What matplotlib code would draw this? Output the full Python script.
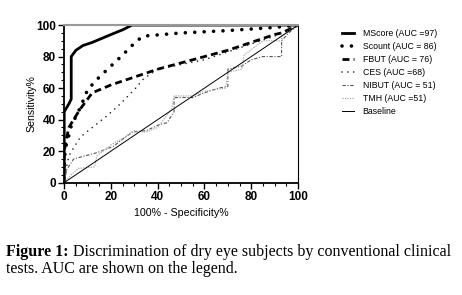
import matplotlib
matplotlib.use("Agg")
import matplotlib.pyplot as plt
from matplotlib.ticker import MultipleLocator

# ---- data ----
mscore_x = [0, 0, 2, 3, 3, 5, 8, 12, 20, 25, 29, 100]
mscore_y = [0, 45, 50, 53, 80, 84, 87, 89, 94, 97, 100, 100]

scount_x = [0, 0, 1, 2, 3, 5, 7, 10, 15, 20, 25, 31, 34, 50, 70, 90, 100]
scount_y = [0, 15, 25, 30, 36, 42, 48, 59, 67, 74, 81, 90, 93, 95, 96.5, 98.5, 100]

fbut_x = [0, 0, 1, 2, 4, 7, 10, 12, 20, 30, 40, 50, 60, 70, 80, 90, 93, 100]
fbut_y = [0, 20, 28, 35, 40, 47, 53, 57, 62, 67, 72, 76, 80, 84, 89, 94, 95, 100]

ces_x = [0, 1, 2, 4, 7, 12, 18, 24, 30, 34, 40, 50, 60, 70, 80, 90, 100]
ces_y = [0, 10, 17, 22, 29, 35, 42, 50, 59, 66, 72, 75, 78, 83, 88, 93, 100]

nibut_x = [0, 1, 4, 14, 21, 29, 35, 41, 44, 47, 47, 55, 60, 66, 70, 70, 76, 80, 85, 93, 93, 96, 100]
nibut_y = [0, 8, 15, 19, 23, 32, 33, 37, 38, 45, 54, 54, 57, 60, 61, 72, 74, 78, 80, 80, 90, 95, 100]

tmh_x = [0, 3, 6, 13, 14, 20, 25, 30, 35, 40, 46, 47, 55, 60, 69, 70, 76, 77, 85, 93, 93, 100]
tmh_y = [0, 5, 9, 10, 17, 24, 28, 33, 32, 35, 47, 55, 55, 58, 60, 70, 72, 81, 90, 90, 93, 100]

base_x = [0, 100]
base_y = [0, 100]

labels = ["MScore (AUC =97)", "Scount (AUC = 86)", "FBUT (AUC = 76)",
          "CES (AUC =68)", "NIBUT (AUC = 51)", "TMH (AUC =51)", "Baseline"]
ticks = [0, 20, 40, 60, 80, 100]

fig = plt.figure(figsize=(4.62, 2.95), dpi=100)
ax = fig.add_axes([0.139, 0.381, 0.506, 0.534])

h1, = ax.plot(mscore_x, mscore_y, color="black", lw=2.0, solid_joinstyle="round")
h2, = ax.plot(scount_x, scount_y, color="black", lw=2.6, linestyle=(0, (0.01, 2.6)), dash_capstyle="round")
h3, = ax.plot(fbut_x, fbut_y, color="black", lw=2.0, linestyle=(0, (2.5, 1.5)))
h4, = ax.plot(ces_x, ces_y, color="#222222", lw=1.2, linestyle=(0, (0.01, 3.5)), dash_capstyle="round")
h5, = ax.plot(nibut_x, nibut_y, color="#555555", lw=0.8, linestyle=(0, (3, 1.5, 1, 1.5)))
h6, = ax.plot(tmh_x, tmh_y, color="#aaaaaa", lw=0.9, linestyle=(0, (1, 1)))
h7, = ax.plot(base_x, base_y, color="black", lw=0.7)

ax.set_xlim(0, 100)
ax.set_ylim(0, 100)
ax.set_xticks(ticks)
ax.set_yticks(ticks)
ax.xaxis.set_minor_locator(MultipleLocator(5))
ax.yaxis.set_minor_locator(MultipleLocator(5))
ax.tick_params(which="major", direction="out", length=4, width=1, labelsize=8.5, pad=2)
ax.tick_params(which="minor", direction="out", length=2, width=0.8)
for lab in ax.get_xticklabels() + ax.get_yticklabels():
    lab.set_fontweight("bold")
    lab.set_family("Liberation Sans")

ax.spines["left"].set_linewidth(1.3)
ax.spines["bottom"].set_linewidth(1.3)
ax.spines["top"].set_color("#999999")
ax.spines["top"].set_linewidth(1.5)
ax.spines["right"].set_linewidth(0.8)

ax.set_ylabel("Sensitivity%", fontsize=7.6, family="Liberation Sans", labelpad=-0.5)
ax.set_xlabel("100% - Specificity%", fontsize=7.7, family="Liberation Sans", labelpad=4)

leg = fig.legend([h1, h2, h3, h4, h5, h6, h7], labels,
                 loc="upper left", bbox_to_anchor=(0.732, 0.912),
                 frameon=False, prop={"family": "Liberation Sans", "size": 6.3},
                 handlelength=1.4, handletextpad=1.0, labelspacing=0.45,
                 borderaxespad=0)

cap_size = 11.5
t1 = fig.text(0.013, 1 - 256 / 295, "Figure 1:", fontsize=cap_size, family="Liberation Serif",
              fontweight="bold", va="baseline")
fig.canvas.draw()
bb = t1.get_window_extent()
x2 = (bb.x1 + 4) / fig.bbox.width
fig.text(x2, 1 - 256 / 295, "Discrimination of dry eye subjects by conventional clinical",
         fontsize=cap_size, family="Liberation Serif", va="baseline")
fig.text(0.013, 1 - 273 / 295, "tests. AUC are shown on the legend.",
         fontsize=cap_size, family="Liberation Serif", va="baseline")

fig.savefig("out.png", dpi=100)
